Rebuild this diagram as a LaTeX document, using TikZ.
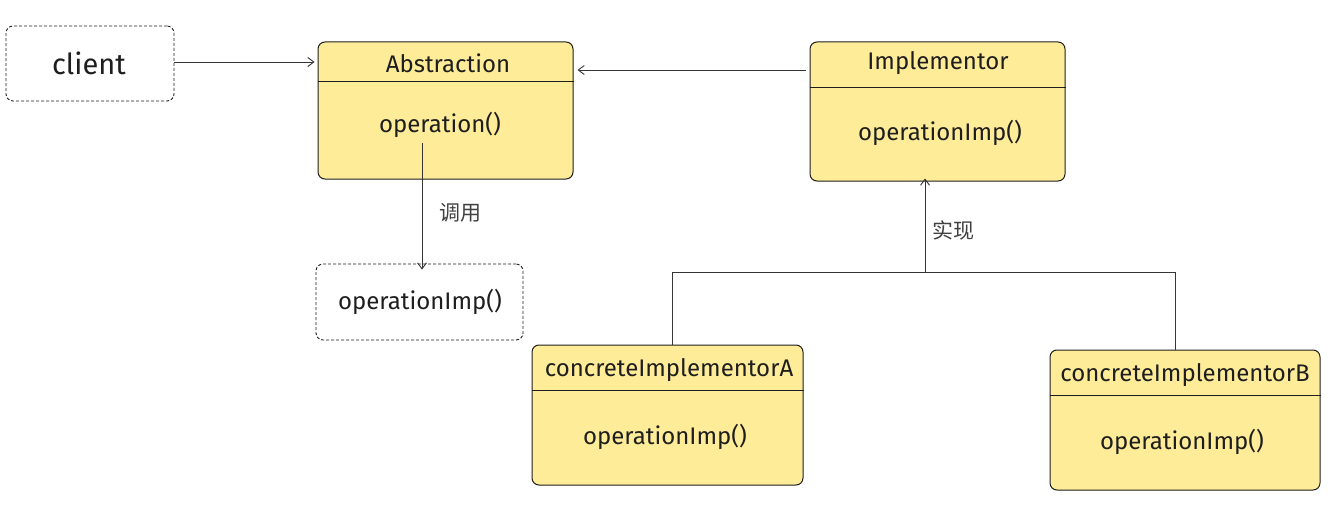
\documentclass[tikz,border=0pt]{standalone}
\usepackage{fontspec}
\setmainfont{Fira Sans}
\newfontfamily\cjk{Noto Sans CJK SC}
\usetikzlibrary{arrows.meta}
\definecolor{ink}{HTML}{1E1E1E}
\definecolor{yel}{HTML}{FFEC99}
\tikzset{
  cls/.style={draw=ink, fill=yel, rounded corners=7pt, line width=1pt, inner sep=0pt},
  dbox/.style={draw=ink, dashed, dash pattern=on 3pt off 2pt, rounded corners=7pt, line width=0.9pt, inner sep=0pt},
  txt/.style={font=\fontsize{24}{26}\selectfont, text=ink, inner sep=0pt},
  lbl/.style={font=\cjk\fontsize{21}{23}\selectfont, text=ink!85, inner sep=0pt},
  arr/.style={draw=ink!90, line width=0.9pt, -{Straight Barb[length=6pt,width=9pt]}},
  ln/.style={draw=ink!90, line width=0.9pt},
  divider/.style={draw=ink, line width=0.9pt}
}
\begin{document}
\begin{tikzpicture}[x=1pt,y=-1pt]
\useasboundingbox (0,0) rectangle (1342,519);
% boxes
\node[dbox, minimum width=168pt, minimum height=75pt] (client) at (90,63.5) {};
\node[txt, font=\fontsize{29}{31}\selectfont] (clientT) at (89,63) {client};

\node[cls, minimum width=255pt, minimum height=137pt] (abs) at (445.5,110.5) {};
\node[txt] (absT) at (448,63) {Abstraction};
\node[txt] (absO) at (440,125) {operation()};
\draw[divider] (abs.west |- 0,81) -- (abs.east |- 0,81);

\node[cls, minimum width=255pt, minimum height=139pt] (impl) at (937.5,111.5) {};
\node[txt] (implT) at (938,63) {Implementor};
\node[txt] (implO) at (940,133) {operationImp()};
\draw[divider] (impl.west |- 0,87) -- (impl.east |- 0,87);

\node[dbox, minimum width=207pt, minimum height=76pt] (opimp) at (419.5,302) {};
\node[txt] (opimpT) at (420,302) {operationImp()};

\node[cls, minimum width=271pt, minimum height=140pt] (ca) at (667.5,415) {};
\node[txt] (caT) at (669,370) {concreteImplementorA};
\node[txt] (caO) at (665,437) {operationImp()};
\draw[divider] (ca.west |- 0,390) -- (ca.east |- 0,390);

\node[cls, minimum width=270pt, minimum height=140pt] (cb) at (1185,420) {};
\node[txt] (cbT) at (1185,375) {concreteImplementorB};
\node[txt] (cbO) at (1182,442) {operationImp()};
\draw[divider] (cb.west |- 0,395) -- (cb.east |- 0,395);

% connectors
\coordinate (cA) at (177,62);
\draw[arr] (client.east |- cA) -- ([xshift=-3pt]abs.west |- cA);
\coordinate (iA) at (0,70);
\draw[arr] ([xshift=-4pt]impl.west |- iA) -- ([xshift=4pt]abs.east |- iA);
\coordinate (opS) at (422,143);
\draw[arr] (opS) -- ([yshift=-6pt]opimp.north -| opS);
\node[lbl] (callL) at (460,213) {调用};

\coordinate (jn) at (925,272);
\coordinate (jl) at (672,272);
\coordinate (jr) at (1175,272);
\draw[arr] (jn) -- ([yshift=3pt]impl.south -| jn);
\node[lbl] (implL) at (953,230) {实现};
\draw[ln] (jl) -- (jr);
\draw[ln] (jl) -- (ca.north -| jl);
\draw[ln] (jr) -- (cb.north -| jr);
\end{tikzpicture}
\end{document}
